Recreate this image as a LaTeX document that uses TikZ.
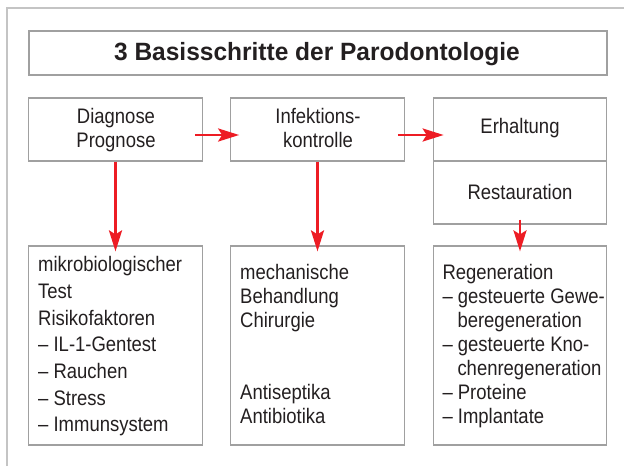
\documentclass[tikz,border=0pt]{standalone}
\usepackage{fontspec}
\setmainfont{Liberation Sans}[FakeStretch=0.88]
\newfontfamily\titlefont{Liberation Sans}[FakeStretch=0.98]
\usetikzlibrary{arrows.meta,calc}
\definecolor{arrred}{HTML}{ED1C24}
\definecolor{boxgray}{HTML}{A0A0A0}
\definecolor{framegray}{HTML}{C4C4C4}
\definecolor{txt}{HTML}{231F20}
\begin{document}
\begin{tikzpicture}[x=1pt,y=-1pt,
  box/.style={draw=boxgray,line width=1.2pt,inner sep=0pt,minimum width=173.5pt},
  lbl/.style={inner sep=0pt,text=txt,font=\fontsize{21}{24}\selectfont},
  ttl/.style={inner sep=0pt,text=txt,font=\titlefont\bfseries\fontsize{25}{30}\selectfont},
  arr/.style={draw=arrred,line width=2.8pt,-{Stealth[length=21pt,width=13pt,inset=4pt]}}]
\useasboundingbox (0,0) rectangle (624,466);
% outer frame (cropped)
\draw[framegray,line width=1.4pt] (7,466) -- (7,8) -- (624,8);
% title
\node[box,minimum width=578pt,minimum height=44pt] (title) at (318,53) {};
\node[ttl,anchor=base] (ttext) at (317,60) {3 Basisschritte der Parodontologie};
% top boxes
\node[box,minimum height=63pt] (box1) at (115.5,129.5) {};
\node[box,minimum height=63pt] (box2) at (317.5,129.5) {};
\node[box,minimum height=63pt] (box3a) at (520,129.5) {};
\node[box,minimum height=63pt] (box3b) at (520,192.5) {};
\node[lbl,anchor=base] (t1a) at (116,123) {Diagnose};
\node[lbl,anchor=base] (t1b) at (116,147) {Prognose};
\node[lbl,anchor=base] (t2a) at (318,123) {Infektions-};
\node[lbl,anchor=base] (t2b) at (318,147) {kontrolle};
\node[lbl,anchor=base] (t3a) at (520,133.3) {Erhaltung};
\node[lbl,anchor=base] (t3b) at (520,199.3) {Restauration};
% bottom boxes
\node[box,minimum height=199pt] (bot1) at (115.5,345.5) {};
\node[box,minimum height=199pt] (bot2) at (317.5,345.5) {};
\node[box,minimum height=199pt] (bot3) at (520,345.5) {};
\foreach \t/\y [count=\i] in {mikrobiologischer/271.7, Test/298.3, Risikofaktoren/325, – IL-1-Gentest/351.7, – Rauchen/378.3, – Stress/405, – Immunsystem/431.7}
  \node[lbl,anchor=base west] (bl\i) at (38,\y) {\t};
\foreach \t/\y [count=\i] in {mechanische/279.3, Behandlung/303.3, Chirurgie/327.3, Antiseptika/399.3, Antibiotika/423.3}
  \node[lbl,anchor=base west] (bm\i) at (240,\y) {\t};
\foreach \t/\x/\y [count=\i] in {Regeneration/442.3/279.3, – gesteuerte Gewe-/442.3/303.3, beregeneration/457.3/327.3, – gesteuerte Kno-/442.3/351.3, chenregeneration/457.3/375.3, – Proteine/442.3/399.3, – Implantate/442.3/423.3}
  \node[lbl,anchor=base west] (br\i) at (\x,\y) {\t};
% arrows
\draw[arr] ([shift={(-8,5.5)}]box1.east) -- ([shift={(9,5.5)}]box2.west);
\draw[arr] ([shift={(-7,5.5)}]box2.east) -- ([shift={(11,5.5)}]box3a.west);
\draw[arr] (box1.south) -- ([yshift=-6pt]bot1.north);
\draw[arr] (box2.south) -- ([yshift=-6pt]bot2.north);
\draw[arr] ([yshift=5pt]box3b.south) -- ([yshift=-6pt]bot3.north);
\end{tikzpicture}
\end{document}
